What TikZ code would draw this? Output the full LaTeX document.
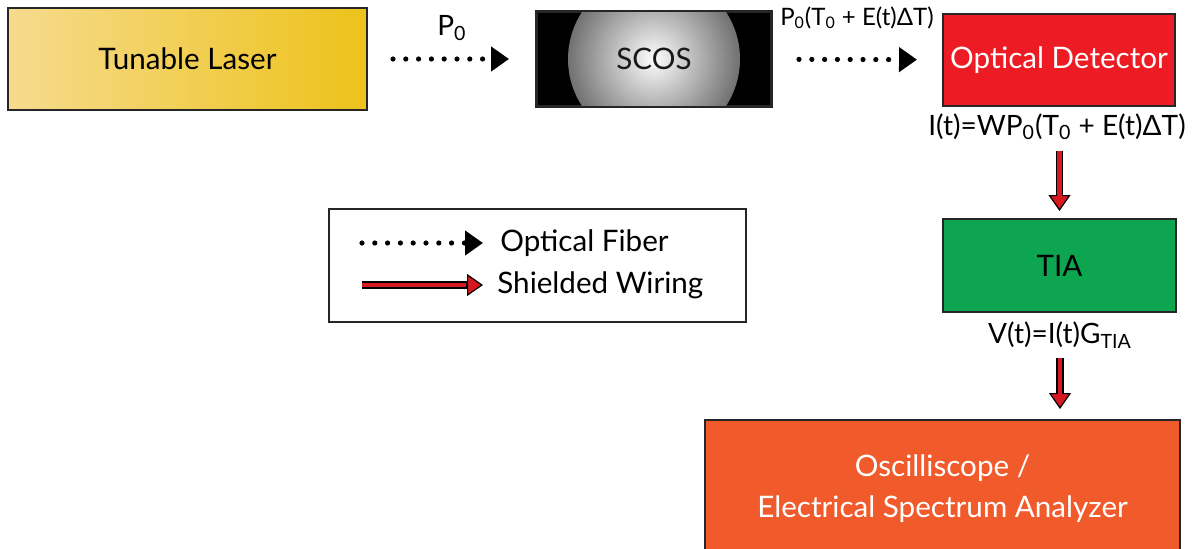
\documentclass[tikz,border=0pt]{standalone}
\usepackage{fontspec}
\setmainfont{Lato}
\usetikzlibrary{arrows.meta}
\definecolor{laserL}{HTML}{F6DB8E}
\definecolor{laserR}{HTML}{EDC21A}
\definecolor{detred}{HTML}{ED1C24}
\definecolor{tiagreen}{HTML}{0DA54F}
\definecolor{oscorange}{HTML}{F15A2B}
\definecolor{wirered}{HTML}{D7191F}
\newcommand{\sub}[1]{\textsubscript{#1}}
\begin{document}
\begin{tikzpicture}[x=0.5pt,y=-0.5pt,font=\fontsize{14.8}{17.5}\selectfont,
  box/.style={draw=black!85,line width=1pt,inner sep=0pt,align=center},
  lbl/.style={inner sep=1pt,font=\fontsize{14}{17}\selectfont},
  fiber/.style={line width=2.6pt,line cap=round,dash pattern=on 0pt off 6.4pt,-{Triangle[length=9pt,width=12pt]}},
  wire/.style={draw=black,line width=3.8pt,-{Triangle[length=8pt,width=11pt,line width=0.6pt,fill=wirered]},
    postaction={draw=wirered,line width=2.4pt,shorten >=8.6pt,-}}]
\useasboundingbox (0,0) rectangle (1193,548);
% blocks
\node[box,minimum width=179.5pt,minimum height=51pt,left color=laserL,right color=laserR](laser) at (187.5,59){Tunable Laser};
\node[box,minimum width=117pt,minimum height=47pt,fill=black](scos) at (654,59){};
\begin{scope}
\clip (537,12) rectangle (771,106);
\foreach \r in {86,84,...,2}{
  \pgfmathsetmacro\g{0.64*\r}
  \fill[black!\g] (654,59) circle [radius=\r];
}
\end{scope}
\draw[black!85,line width=1pt] (scos.south west) rectangle (scos.north east);
\node[inner sep=0pt,text=black!90] at (scos.center){SCOS};
\node[box,minimum width=116pt,minimum height=46pt,fill=detred,text=white](det) at (1059,60){Optical Detector};
\node[box,minimum width=116.5pt,minimum height=46.5pt,fill=tiagreen](tia) at (1059.5,265.5){TIA};
\node[box,minimum width=237.5pt,minimum height=69pt,fill=oscorange,text=white](osc) at (942.5,489){Oscilliscope /\\[3pt] Electrical Spectrum Analyzer};
% equations
\node[lbl](eqi) at (1057,127){I(t)=WP\sub{0}(T\sub{0} + E(t)ΔT)};
\node[lbl](eqv) at (1060,335){V(t)=I(t)G\sub{TIA}};
% connections
\draw[fiber,shorten <=12.5pt,shorten >=13.5pt](laser)--(scos) node[midway,above=7pt,lbl]{P\sub{0}};
\draw[fiber,shorten <=13.5pt,shorten >=12.5pt](scos)--(det) node[midway,above=13pt,lbl,font=\fontsize{12}{14}\selectfont]{P\sub{0}(T\sub{0} + E(t)ΔT)};
\draw[wire,shorten <=4pt,shorten >=3.5pt](tia.north|-eqi.south)--(tia.north);
\draw[wire,shorten <=4pt,shorten >=5pt](eqv.south)--(eqv.south|-osc.north);
% legend
\node[box,minimum width=208.5pt,minimum height=56.5pt](legend) at (537.5,265.5){};
\coordinate(f1) at (362,243);\coordinate(f2) at (483,243);
\coordinate(w1) at (362,285);\coordinate(w2) at (483,285);
\draw[fiber](f1)--(f2);
\draw[wire](w1)--(w2);
\node[anchor=west,inner sep=0pt](lf) at (500,243){Optical Fiber};
\node[anchor=west,inner sep=0pt](lw) at (497,285){Shielded Wiring};
\end{tikzpicture}
\end{document}
